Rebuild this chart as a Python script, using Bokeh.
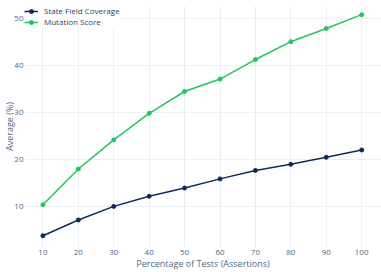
from bokeh.plotting import figure
from bokeh.models import Legend, LegendItem, FixedTicker
from bokeh.embed import file_html
from bokeh.resources import INLINE

pct = [10, 20, 30, 40, 50, 60, 70, 80, 90, 100]
state_field = [3.8, 7.15, 10.05, 12.2, 13.95, 15.9, 17.7, 19.0, 20.5, 22.05]
mutation = [10.4, 18.0, 24.2, 29.85, 34.5, 37.15, 41.3, 45.1, 47.9, 50.85]
x_ticks = [10, 20, 30, 40, 50, 60, 70, 80, 90, 100]
y_ticks = [10, 20, 30, 40, 50]

NAVY = "#0d2b5c"
GREEN = "#22c55e"
FONT = "Open Sans"
TICK_COL = "#506784"

p = figure(width=381, height=272, output_backend="svg", toolbar_location=None,
           x_range=(4.8, 105.6), y_range=(1.3, 52.8),
           min_border_left=0, min_border_right=0, min_border_top=5, min_border_bottom=0)
p.outline_line_color = None
p.background_fill_color = "white"

l1 = p.line(pct, state_field, line_color=NAVY, line_width=1.5)
m1 = p.scatter(pct, state_field, size=4, fill_color=NAVY, line_color=NAVY)
l2 = p.line(pct, mutation, line_color=GREEN, line_width=1.5)
m2 = p.scatter(pct, mutation, size=4, fill_color=GREEN, line_color=GREEN)

for g in (p.xgrid[0], p.ygrid[0]):
    g.grid_line_color = "#ebf0f8"
    g.grid_line_width = 1
p.xaxis.ticker = FixedTicker(ticks=x_ticks)
p.yaxis.ticker = FixedTicker(ticks=y_ticks)
for ax in (p.xaxis[0], p.yaxis[0]):
    ax.axis_line_color = None
    ax.major_tick_line_color = None
    ax.minor_tick_line_color = None
    ax.major_tick_out = 0
    ax.major_tick_in = 0
    ax.major_label_text_font = FONT
    ax.major_label_text_font_size = "8px"
    ax.major_label_text_color = TICK_COL
    ax.axis_label_text_font = FONT
    ax.axis_label_text_font_size = "9px"
    ax.axis_label_text_font_style = "normal"
    ax.axis_label_text_color = TICK_COL
p.xaxis.axis_label = "Percentage of Tests (Assertions)"
p.yaxis.axis_label = "Average (%)"
p.xaxis.major_label_standoff = 2
p.xaxis.axis_label_standoff = -1
p.yaxis.major_label_standoff = 1
p.yaxis.axis_label_standoff = -5

legend = Legend(items=[LegendItem(label="State Field Coverage", renderers=[l1, m1]),
                       LegendItem(label="Mutation Score", renderers=[l2, m2])],
                location="top_left")
legend.label_text_font = FONT
legend.label_text_font_size = "8px"
legend.label_text_color = "#2a3f5f"
legend.border_line_color = None
legend.background_fill_color = "white"
legend.background_fill_alpha = 1.0
legend.margin = 0
legend.padding = 2
legend.spacing = 0
legend.label_height = 10
legend.glyph_height = 10
legend.glyph_width = 14
legend.label_standoff = 6
p.add_layout(legend)

open("out.html", "w").write(file_html(p, INLINE))
